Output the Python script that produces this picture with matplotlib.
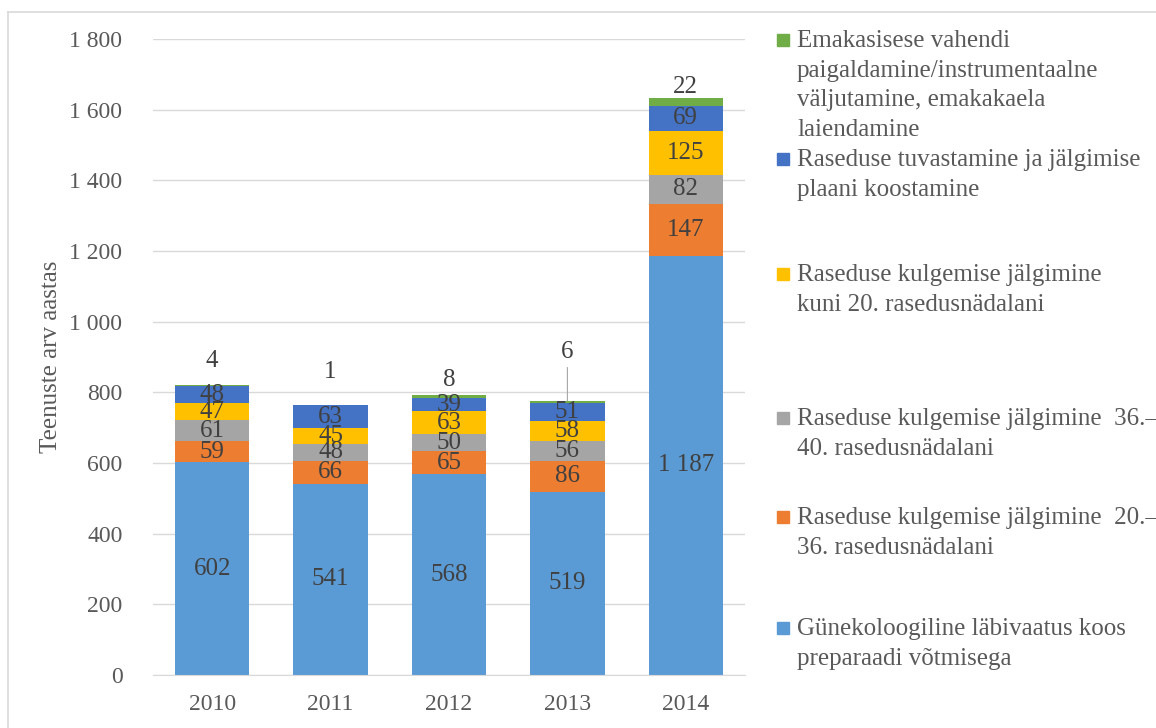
import matplotlib.pyplot as plt
from matplotlib import ticker
from matplotlib.patches import Rectangle
from matplotlib.lines import Line2D

plt.rcParams['font.family'] = ['Liberation Serif', 'DejaVu Serif']

years = ['2010', '2011', '2012', '2013', '2014']
series_names = [
    'Günekoloogiline läbivaatus koos\npreparaadi võtmisega',
    'Raseduse kulgemise jälgimine  20.–\n36. rasedusnädalani',
    'Raseduse kulgemise jälgimine  36.–\n40. rasedusnädalani',
    'Raseduse kulgemise jälgimine\nkuni 20. rasedusnädalani',
    'Raseduse tuvastamine ja jälgimise\nplaani koostamine',
    'Emakasisese vahendi\npaigaldamine/instrumentaalne\nväljutamine, emakakaela\nlaiendamine',
]
gyn = [602, 541, 568, 519, 1187]
ras_20_36 = [59, 66, 65, 86, 147]
ras_36_40 = [61, 48, 50, 56, 82]
ras_kuni_20 = [47, 45, 63, 58, 125]
tuvastamine = [48, 63, 39, 51, 69]
emakasisese = [4, 1, 8, 6, 22]

series = [gyn, ras_20_36, ras_36_40, ras_kuni_20, tuvastamine, emakasisese]
colors = ['#5B9BD5', '#ED7D31', '#A5A5A5', '#FFC000', '#4472C4', '#70AD47']

# label offsets (points) for the small top segment labels
top_offsets = [17, 24, 11, 35, 8]

W, H = 1156, 728
fig = plt.figure(figsize=(W / 100, H / 100), dpi=100)
ax = fig.add_axes([153 / W, 1 - 675 / H, (745 - 153) / W, (675 - 39) / H])

x = list(range(len(years)))
bottom = [0] * len(years)
txt_color = '#404040'
fs = 18
for idx, (vals, col) in enumerate(zip(series, colors)):
    ax.bar(x, vals, width=0.63, bottom=bottom, color=col, zorder=2)
    for i, v in enumerate(vals):
        if idx < len(series) - 1:
            ax.text(i, bottom[i] + v / 2, f'{v:,}'.replace(',', ' '),
                    ha='center', va='center', fontsize=fs, color=txt_color, zorder=3)
        else:
            top = bottom[i] + v
            ax.annotate(str(v), (i, top), xytext=(0, top_offsets[i]),
                        textcoords='offset points', ha='center', va='center',
                        fontsize=fs, color=txt_color, zorder=3)
            if i == 3:
                ax.annotate('', (i, top), xytext=(0, 24), textcoords='offset points',
                            arrowprops=dict(arrowstyle='-', color='#A6A6A6', lw=0.8,
                                            shrinkA=0, shrinkB=0))
    bottom = [b + v for b, v in zip(bottom, vals)]

ax.set_ylim(0, 1800)
ax.set_xlim(-0.5, 4.5)
ax.yaxis.set_major_locator(ticker.MultipleLocator(200))
ax.yaxis.set_major_formatter(ticker.FuncFormatter(lambda v, _: f'{int(v):,}'.replace(',', ' ')))
ax.grid(axis='y', color='#D9D9D9', lw=1, zorder=0)
for s in ['top', 'right', 'left']:
    ax.spines[s].set_visible(False)
ax.spines['bottom'].set_color('#D9D9D9')
ax.tick_params(axis='both', length=0, labelsize=17, labelcolor='#595959')
ax.tick_params(axis='y', pad=22)
ax.tick_params(axis='x', pad=14)
ax.set_xticks(x)
ax.set_xticklabels(years)
ax.set_ylabel('Teenuste arv aastas', fontsize=18, color='#595959', labelpad=5)

# legend, drawn manually (reverse order, top to bottom)
legend_y = [40, 159, 274, 418, 517, 628]
for name, col, yp in zip(series_names[::-1], colors[::-1], legend_y):
    fig.patches.append(Rectangle((777 / W, 1 - (yp + 6) / H), 12 / W, 12 / H,
                                 transform=fig.transFigure, color=col))
    fig.text(797 / W, 1 - (yp - 10) / H, name, ha='left', va='top',
             fontsize=fs, color='#595959', linespacing=1.45)

# chart frame
fig.lines.append(Line2D([8 / W, 8 / W], [0, 1 - 12 / H], transform=fig.transFigure,
                        color='#D9D9D9', lw=1.2))
fig.lines.append(Line2D([8 / W, 1], [1 - 12 / H, 1 - 12 / H], transform=fig.transFigure,
                        color='#D9D9D9', lw=1.2))

fig.savefig('out.png', dpi=100)
